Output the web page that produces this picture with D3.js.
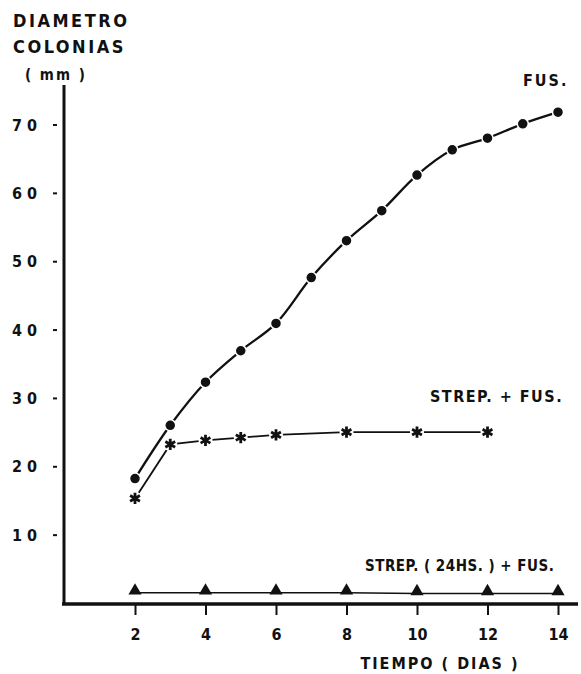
<!DOCTYPE html>
<html>
<head>
<meta charset="utf-8">
<script src="https://cdn.jsdelivr.net/npm/d3@7"></script>
<style>
  body { margin: 0; background: #fff; }
  svg text { font-family: "DejaVu Sans Condensed", "DejaVu Sans", sans-serif; font-stretch: condensed; font-weight: bold; fill: #111; }
</style>
</head>
<body>
<div id="app"></div>
<script>
const fusDays = [2, 3, 4, 5, 6, 7, 8, 9, 10, 11, 12, 13, 14];
const fusValues = [18.2, 26.0, 32.3, 36.9, 40.9, 47.6, 53.0, 57.4, 62.6, 66.3, 68.0, 70.1, 71.8];

const strepDays = [2, 3, 4, 5, 6, 8, 10, 12];
const strepValues = [15.3, 23.2, 23.8, 24.2, 24.6, 25.0, 25.0, 25.0];

const strep24Days = [2, 4, 6, 8, 10, 12, 14];
const strep24Values = [1.5, 1.5, 1.5, 1.5, 1.4, 1.4, 1.4];

const xTicks = [2, 4, 6, 8, 10, 12, 14];
const yTicks = [10, 20, 30, 40, 50, 60, 70];

const width = 581;
const height = 674;

const svg = d3.select('#app')
  .append('svg')
  .attr('width', width)
  .attr('height', height);

const x = d3.scaleLinear().domain([0, 14]).range([64.5, 558]);
const y = d3.scaleLinear().domain([0, 70]).range([603, 124.5]);

// axes
svg.append('line')
  .attr('x1', 64).attr('x2', 64)
  .attr('y1', 85).attr('y2', 605)
  .attr('stroke', '#111').attr('stroke-width', 3);

svg.append('line')
  .attr('x1', 62).attr('x2', 578)
  .attr('y1', 604).attr('y2', 604)
  .attr('stroke', '#111').attr('stroke-width', 3.5);

const yAxis = svg.append('g')
  .attr('transform', 'translate(57,0)')
  .call(d3.axisLeft(y).tickValues(yTicks).tickSize(4).tickPadding(16).tickFormat(d => String(d).split('').join(' ')));
yAxis.select('.domain').remove();
yAxis.selectAll('.tick line').attr('stroke', '#111').attr('stroke-width', 2);
yAxis.selectAll('.tick text')
  .style('font-size', '16px')
  .attr('dy', '0.35em');

const xAxis = svg.append('g')
  .attr('transform', 'translate(0,605)')
  .call(d3.axisBottom(x).tickValues(xTicks).tickSize(10).tickPadding(14));
xAxis.select('.domain').remove();
xAxis.selectAll('.tick line').attr('stroke', '#111').attr('stroke-width', 2);
xAxis.selectAll('.tick text').style('font-size', '16px');

// lines
const fusData = fusDays.map((d, i) => [d, fusValues[i]]);
const strepData = strepDays.map((d, i) => [d, strepValues[i]]);
const strep24Data = strep24Days.map((d, i) => [d, strep24Values[i]]);

const smooth = d3.line().x(d => x(d[0])).y(d => y(d[1])).curve(d3.curveCatmullRom.alpha(0.5));
const straight = d3.line().x(d => x(d[0])).y(d => y(d[1]));

svg.append('path').datum(fusData)
  .attr('d', smooth).attr('fill', 'none')
  .attr('stroke', '#111').attr('stroke-width', 2.3);

svg.append('path').datum(strepData)
  .attr('d', straight).attr('fill', 'none')
  .attr('stroke', '#111').attr('stroke-width', 1.8);

svg.append('path').datum(strep24Data)
  .attr('d', straight).attr('fill', 'none')
  .attr('stroke', '#111').attr('stroke-width', 1.6);

// markers
svg.selectAll('.fus').data(fusData).enter()
  .append('circle').attr('class', 'fus')
  .attr('cx', d => x(d[0])).attr('cy', d => y(d[1]))
  .attr('r', 5.5).attr('fill', '#111')
  .attr('stroke', '#fff').attr('stroke-width', 1.5);

const star = d3.symbol().type(d3.symbolAsterisk).size(90);
svg.selectAll('.strep-bg').data(strepData).enter()
  .append('circle').attr('class', 'strep-bg')
  .attr('cx', d => x(d[0])).attr('cy', d => y(d[1]))
  .attr('r', 7).attr('fill', '#fff');
svg.selectAll('.strep').data(strepData).enter()
  .append('path').attr('class', 'strep')
  .attr('transform', d => `translate(${x(d[0])},${y(d[1])})`)
  .attr('d', star).attr('fill', 'none')
  .attr('stroke', '#111').attr('stroke-width', 2.8);

const tri = d3.symbol().type(d3.symbolTriangle).size(75);
svg.selectAll('.strep24').data(strep24Data).enter()
  .append('path').attr('class', 'strep24')
  .attr('transform', d => `translate(${x(d[0])},${y(d[1]) - 2})`)
  .attr('d', tri).attr('fill', '#111');

// labels
const label = (tx, ty, s, size, spacing, anchor) => svg.append('text')
  .attr('x', tx).attr('y', ty)
  .attr('text-anchor', anchor || 'start')
  .style('font-size', size + 'px')
  .style('letter-spacing', spacing + 'px')
  .text(s);

label(13, 27, 'DIAMETRO', 18, 2.5);
label(13, 53, 'COLONIAS', 18, 2.5);
label(25, 80, '( mm )', 15, 2);
label(523, 86, 'FUS.', 16, 2);
label(430, 402, 'STREP. + FUS.', 16, 1.5);
label(365, 571, 'STREP. ( 24HS. ) + FUS.', 15, 0.5);
label(440, 669, 'TIEMPO  ( DIAS )', 16, 2, 'middle');
</script>
</body>
</html>
